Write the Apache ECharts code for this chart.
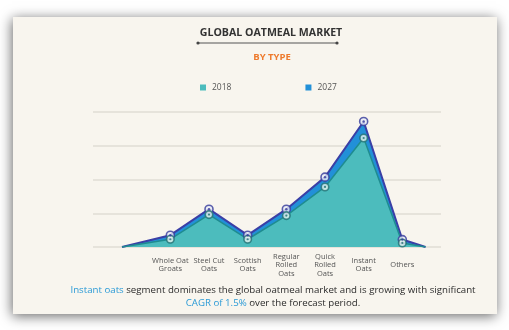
<!DOCTYPE html>
<html><head><meta charset="utf-8">
<script src="https://cdn.jsdelivr.net/npm/echarts@6/dist/echarts.min.js"></script>
<style>html,body{margin:0;padding:0;background:#fff}#c{width:509px;height:330px}</style>
</head><body><div id="c"></div>
<script>
const categories = ['Whole Oat\nGroats','Steel Cut\nOats','Scottish\nOats','Regular\nRolled\nOats','Quick\nRolled\nOats','Instant\nOats','Others'];
const values2018 = [0.23, 0.96, 0.23, 0.93, 1.78, 3.23, 0.12];
const values2027 = [0.35, 1.12, 0.35, 1.12, 2.07, 3.72, 0.22];
const seriesNames = ['2018','2027'];
const yTicks = [0,1,2,3,4];
const tailStart = -0.25, tailEnd = 7.6;

function areaData(vals){
  return [[tailStart,0]].concat(vals.map((v,i)=>[i+1,v])).concat([[tailEnd,0]]);
}
function pointData(vals){ return vals.map((v,i)=>[i+1,v]); }

const C18 = {area:'#4cbcbd', line:'#1f8c90', ring:'#1f6f72'};
const C27 = {area:'#2290d8', line:'#3a3fa6', ring:'#33389a'};
const font = 'Open Sans';

const chart = echarts.init(document.getElementById('c'), null, {renderer:'canvas'});
chart.setOption({
  backgroundColor:'#ffffff',
  animation:false,
  textStyle:{fontFamily:font},
  graphic:[
    {type:'rect', z:-10, shape:{x:13,y:17,width:484,height:297},
     style:{fill:'#f8f5ee', shadowBlur:12, shadowColor:'rgba(0,0,0,0.6)', shadowOffsetX:-1, shadowOffsetY:2}},
    {type:'line', shape:{x1:198,y1:43,x2:337,y2:43}, style:{stroke:'#555', lineWidth:1}},
    {type:'circle', shape:{cx:198,cy:43,r:1.6}, style:{fill:'#444'}},
    {type:'circle', shape:{cx:337,cy:43,r:1.6}, style:{fill:'#444'}}
  ],
  title:[
    {text:'GLOBAL OATMEAL MARKET', left:266, textAlign:'center', top:22,
     textStyle:{fontFamily:font, fontSize:10.6, fontWeight:'bold', color:'#333'}},
    {text:'BY TYPE', left:267, textAlign:'center', top:47,
     textStyle:{fontFamily:font, fontSize:9.5, fontWeight:'bold', color:'#ee7a2c'}},
    {text:'{b|Instant oats} segment dominates the global oatmeal market and is growing with significant\n{b|CAGR of 1.5%} over the forecast period.',
     left:268, textAlign:'center', top:278,
     textStyle:{fontFamily:font, fontSize:9.7, fontWeight:'normal', color:'#2b2b2b', lineHeight:13.5,
       rich:{b:{fontFamily:font, fontSize:9.7, fontWeight:'normal', color:'#2a9ad6', lineHeight:13.5}}}}
  ],
  legend:{
    left:195, top:78, itemWidth:6, itemHeight:6, itemGap:74, icon:'rect',
    data:seriesNames,
    textStyle:{fontFamily:font, fontSize:8.5, color:'#555', padding:[0,0,0,1]}
  },
  grid:{left:93, right:68, top:112, bottom:83},
  xAxis:{type:'value', min:-1, max:8, interval:1,
    axisLine:{show:false}, axisTick:{show:false}, splitLine:{show:false},
    axisLabel:{margin:18, verticalAlign:'middle', fontFamily:font, fontSize:7.5, lineHeight:8.5, color:'#555', align:'center',
      formatter:(v)=>{const i=Math.round(v)-1; return (i>=0&&i<categories.length&&Math.abs(v-Math.round(v))<1e-6)?categories[i]:'';}}},
  yAxis:{type:'value', min:yTicks[0], max:yTicks[yTicks.length-1], interval:1,
    axisLine:{show:false}, axisTick:{show:false}, axisLabel:{show:false},
    splitLine:{lineStyle:{color:'#e0ddd5', width:1.5}}},
  series:[
    {name:'2027', type:'line', data:areaData(values2027), showSymbol:false, symbol:'none', z:2,
     itemStyle:{color:C27.area}, lineStyle:{color:C27.line, width:2}, areaStyle:{color:C27.area, opacity:1}},
    {name:'2018', type:'line', data:areaData(values2018), showSymbol:false, symbol:'none', z:3,
     itemStyle:{color:C18.area}, lineStyle:{color:C18.line, width:1.5}, areaStyle:{color:C18.area, opacity:1}},
    {type:'scatter', data:pointData(values2027), symbol:'circle', symbolSize:8, z:4,
     itemStyle:{color:'#e9ecf6', borderColor:C27.ring, borderWidth:1.6}},
    {type:'scatter', data:pointData(values2027), symbol:'circle', symbolSize:2.4, z:5,
     itemStyle:{color:C27.ring}},
    {type:'scatter', data:pointData(values2018), symbol:'circle', symbolSize:7.5, z:4,
     itemStyle:{color:'#e4f2ef', borderColor:C18.ring, borderWidth:1.6}},
    {type:'scatter', data:pointData(values2018), symbol:'circle', symbolSize:2.2, z:5,
     itemStyle:{color:C18.ring}}
  ]
});
</script></body></html>
